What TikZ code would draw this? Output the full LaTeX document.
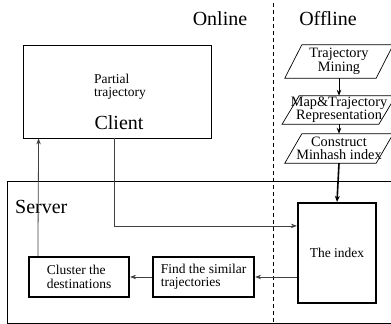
\documentclass[tikz,border=0pt]{standalone}
\usepackage{fontspec}
\setmainfont{Liberation Serif}
\usetikzlibrary{arrows.meta,calc}
\tikzset{
  big/.style={font=\fontsize{20}{22}\selectfont, inner sep=0pt},
  small/.style={font=\fontsize{13.5}{12.5}\selectfont, inner sep=0pt},
  thinbox/.style={draw, line width=0.8pt, inner sep=0pt},
  thickbox/.style={draw, line width=2.2pt, inner sep=0pt, font=\fontsize{13.5}{13.5}\selectfont, align=left},
  para/.style={inner sep=0pt, font=\fontsize{14.3}{13.5}\selectfont, align=center},
  conn/.style={draw=black!75, line width=0.8pt, -{Stealth[length=6pt,width=4.5pt]}},
  bconn/.style={draw=black, line width=1.6pt, -{Stealth[length=6pt,width=5pt]}},
}
\begin{document}
\begin{tikzpicture}[x=1pt,y=-1pt]
\useasboundingbox (0,0) rectangle (391,324);
% headers
\node[big] (online) at (220,19) {Online};
\node[big] (offline) at (328,19) {Offline};
\coordinate (dtop) at (273,3);
\coordinate (dbot) at (273,324);
\draw[dashed, dash pattern=on 4pt off 3pt, line width=0.7pt] (dtop) -- (dbot);
% client
\node[thinbox, minimum width=188pt, minimum height=93pt] (client) at (117,91.5) {};
\node[small, align=left, anchor=west] (partial) at (94,87) {Partial\\trajectory};
\node[big] (clienttxt) at (119,123) {Client};
% server
\draw[line width=0.8pt] (7,181) rectangle (393,323);
\node[big, anchor=west] (server) at (15,207) {Server};
% index and boxes
\node[thickbox, minimum width=78pt, minimum height=100pt, align=center] (index) at (337,253) {The index};
\node[thickbox, minimum width=101pt, minimum height=40pt] (find) at (203.5,277) {Find the similar\\trajectories};
\node[thickbox, minimum width=100pt, minimum height=40pt] (cluster) at (79,277) {Cluster the\\destinations};
% parallelogram nodes
\node[para, minimum width=91pt, minimum height=33pt] (tm) at (339,61.5) {Trajectory\\Mining};
\node[para, minimum width=91pt, minimum height=28pt] (mt) at (339,110) {Map\&Trajectory\\Representation};
\node[para, minimum width=91pt, minimum height=29pt] (cm) at (339,148.5) {Construct\\Minhash index};
\foreach \n in {tm,mt,cm}{
  \draw[line width=0.7pt] ($(\n.north west)+(8.5,0)$) -- ($(\n.north east)+(8.5,0)$) -- ($(\n.south east)-(8.5,0)$) -- ($(\n.south west)-(8.5,0)$) -- cycle;
}
% connectors
\draw[conn, draw=black] (tm.south) -- (mt.north);
\draw[conn, draw=black] (mt.south) -- (cm.north);
\draw[bconn] (cm.south) -- (index.north);
\draw[conn] ($(client.south west)+(92,0)$) |- ($(index.north west)+(0,24)$);
\draw[conn] (index.west |- find.east) -- (find.east);
\draw[conn] (find.west) -- (cluster.east);
\draw[conn] ($(cluster.north west)+(10,0)$) -- ($(client.south west)+(16,0)$);
\end{tikzpicture}
\end{document}
